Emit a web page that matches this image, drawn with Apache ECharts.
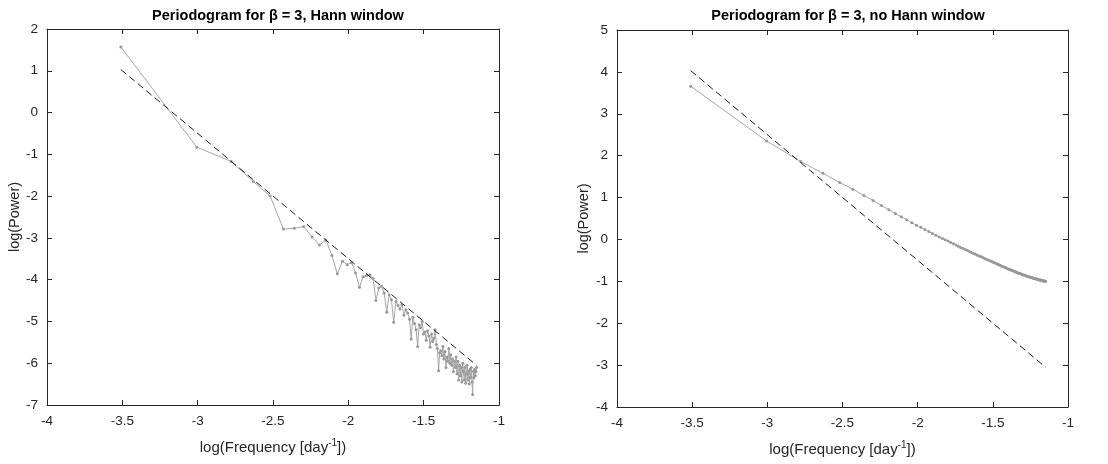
<!DOCTYPE html>
<html>
<head>
<meta charset="utf-8">
<script src="https://cdn.jsdelivr.net/npm/echarts@6/dist/echarts.min.js"></script>
<style>
  html, body { margin: 0; padding: 0; background: #fff; }
  #chart { width: 1108px; height: 464px; }
</style>
</head>
<body>
<div id="chart"></div>
<script>
// log10 of the frequency bins, shared by both panels
let logFreq = [
  -3.510, -3.005, -2.778, -2.630, -2.519, -2.431, -2.358, -2.296, -2.241, -2.192,
  -2.149, -2.109, -2.073, -2.039, -2.008, -1.979, -1.952, -1.926, -1.902, -1.879,
  -1.857, -1.836, -1.817, -1.798, -1.780, -1.762, -1.745, -1.729, -1.714, -1.699,
  -1.684, -1.670, -1.657, -1.644, -1.631, -1.618, -1.606, -1.594, -1.583, -1.572,
  -1.561, -1.550, -1.540, -1.530, -1.520, -1.510, -1.501, -1.492, -1.483, -1.474,
  -1.465, -1.457, -1.448, -1.440, -1.432, -1.424, -1.416, -1.409, -1.401, -1.394,
  -1.387, -1.379, -1.372, -1.366, -1.359, -1.352, -1.345, -1.339, -1.333, -1.326,
  -1.320, -1.314, -1.308, -1.302, -1.296, -1.290, -1.285, -1.279, -1.273, -1.268,
  -1.262, -1.257, -1.252, -1.247, -1.241, -1.236, -1.231, -1.226, -1.221, -1.216,
  -1.212, -1.207, -1.202, -1.197, -1.193, -1.188, -1.184, -1.179, -1.175, -1.170,
  -1.166, -1.162, -1.157, -1.153, -1.149
];

// log power with Hann window
let powerHann = [
  1.57, -0.83, -1.17, -1.65, -2.00, -2.79, -2.77, -2.73, -2.98, -3.17,
  -3.05, -3.42, -3.86, -3.56, -3.64, -3.59, -3.84, -4.18, -3.93, -3.90,
  -3.88, -3.97, -4.50, -4.20, -4.16, -4.32, -4.78, -4.36, -4.48, -5.02,
  -4.52, -4.62, -4.70, -4.60, -4.85, -4.72, -4.80, -4.95, -5.42, -4.90,
  -5.05, -5.20, -5.60, -5.08, -5.15, -5.00, -5.30, -5.25, -5.45, -5.22,
  -5.35, -5.62, -5.30, -5.48, -5.40, -5.20, -5.55, -5.65, -6.18, -5.75,
  -5.70, -5.82, -5.60, -5.90, -5.72, -6.10, -5.85, -5.95, -5.65, -6.00,
  -5.80, -6.05, -5.90, -6.20, -5.95, -6.10, -5.85, -6.25, -5.95, -6.40,
  -6.05, -6.30, -6.10, -6.45, -6.00, -6.20, -6.40, -6.10, -6.48, -6.25,
  -6.05, -6.40, -6.20, -6.50, -6.15, -6.35, -6.10, -6.45, -6.75, -6.20,
  -6.35, -6.15, -6.30, -6.20, -6.10
];

// log power without window
let powerNoHann = [
  3.66, 2.35, 1.86, 1.58, 1.36, 1.20, 1.05, 0.93, 0.81, 0.71,
  0.62, 0.54, 0.47, 0.40, 0.34, 0.29, 0.24, 0.19, 0.14, 0.10,
  0.06, 0.02, -0.01, -0.04, -0.07, -0.10, -0.13, -0.16, -0.19, -0.21,
  -0.24, -0.26, -0.28, -0.31, -0.33, -0.35, -0.37, -0.39, -0.41, -0.42,
  -0.44, -0.46, -0.48, -0.49, -0.51, -0.52, -0.54, -0.55, -0.57, -0.58,
  -0.60, -0.61, -0.62, -0.64, -0.65, -0.66, -0.67, -0.69, -0.70, -0.71,
  -0.72, -0.73, -0.74, -0.75, -0.76, -0.77, -0.78, -0.79, -0.80, -0.81,
  -0.81, -0.82, -0.83, -0.84, -0.85, -0.85, -0.86, -0.87, -0.87, -0.88,
  -0.89, -0.89, -0.90, -0.91, -0.91, -0.92, -0.92, -0.93, -0.93, -0.94,
  -0.94, -0.95, -0.95, -0.96, -0.96, -0.97, -0.97, -0.97, -0.98, -0.98,
  -0.99, -0.99, -0.99, -1.00, -1.00
];

// slope -3 reference lines (end points)
let fitX = [-3.510, -1.149];
let fitHann = [1.03, -6.05];
let fitNoHann = [4.03, -3.05];

let titles = ['Periodogram for \u03b2 = 3, Hann window', 'Periodogram for \u03b2 = 3, no Hann window'];
let xName = 'log(Frequency [day{sup|-1}])';
let yName = 'log(Power)';

function pairs(xs, ys) {
    let out = [];
    for (let i = 0; i < xs.length; i++) out.push([xs[i], ys[i]]);
    return out;
}

let axisColor = '#262626';
let font = 'Liberation Sans, Arial, sans-serif';

function xAxisFor(grid, labels) {
    return {
        type: 'value', gridIndex: grid, min: -4, max: -1, interval: 0.5,
        position: labels ? 'bottom' : 'top',
        name: labels ? xName : '',
        nameLocation: 'middle', nameGap: 33,
        nameTextStyle: {
            color: axisColor, fontSize: 15, fontFamily: font,
            rich: { sup: { fontSize: 10, verticalAlign: 'top', padding: [0, 0, 9, 0], color: axisColor, fontFamily: font } }
        },
        axisLine: { show: true, onZero: false, lineStyle: { color: axisColor, width: 1 } },
        axisTick: { show: true, inside: true, length: 5, lineStyle: { color: axisColor } },
        axisLabel: { show: labels, color: axisColor, fontSize: 13.5, fontFamily: font, margin: 9 },
        splitLine: { show: false }
    };
}

function yAxisFor(grid, min, max, labels, gap) {
    return {
        type: 'value', gridIndex: grid, min: min, max: max, interval: 1,
        position: labels ? 'left' : 'right',
        name: labels ? yName : '',
        nameLocation: 'middle', nameGap: gap, nameRotate: 90,
        nameTextStyle: { color: axisColor, fontSize: 14.5, fontFamily: font },
        axisLine: { show: true, onZero: false, lineStyle: { color: axisColor, width: 1 } },
        axisTick: { show: true, inside: true, length: 5, lineStyle: { color: axisColor } },
        axisLabel: { show: labels, color: axisColor, fontSize: 13.5, fontFamily: font, margin: 9 },
        splitLine: { show: false }
    };
}

function dataSeries(xi, yi, values) {
    return {
        type: 'line', xAxisIndex: xi, yAxisIndex: yi,
        data: pairs(logFreq, values),
        lineStyle: { color: '#a6a6a6', width: 1 },
        itemStyle: { color: '#999999' },
        symbol: 'circle', symbolSize: 3, showSymbol: true,
        animation: false, z: 2
    };
}

function fitSeries(xi, yi, values) {
    return {
        type: 'line', xAxisIndex: xi, yAxisIndex: yi,
        data: pairs(fitX, values),
        lineStyle: { color: '#1a1a1a', width: 1, type: [7, 4] },
        symbol: 'none', animation: false, z: 3
    };
}

let chart = echarts.init(document.getElementById('chart'), null, { renderer: 'canvas' });

let option = {
    backgroundColor: '#ffffff',
    animation: false,
    title: [
        { text: titles[0], left: 273, top: 3, textAlign: 'center',
          textStyle: { fontSize: 14.5, fontWeight: 'bold', color: '#000', fontFamily: font } },
        { text: titles[1], left: 843, top: 3, textAlign: 'center',
          textStyle: { fontSize: 14.5, fontWeight: 'bold', color: '#000', fontFamily: font } }
    ],
    grid: [
        { left: 47, top: 29, width: 452, height: 376 },
        { left: 617, top: 30, width: 451, height: 377 }
    ],
    xAxis: [xAxisFor(0, true), xAxisFor(0, false), xAxisFor(1, true), xAxisFor(1, false)],
    yAxis: [
        yAxisFor(0, -7, 2, true, 25), yAxisFor(0, -7, 2, false, 0),
        yAxisFor(1, -4, 5, true, 26), yAxisFor(1, -4, 5, false, 0)
    ],
    series: [
        dataSeries(0, 0, powerHann),
        fitSeries(0, 0, fitHann),
        dataSeries(2, 2, powerNoHann),
        fitSeries(2, 2, fitNoHann)
    ]
};

chart.setOption(option);
</script>
</body>
</html>
